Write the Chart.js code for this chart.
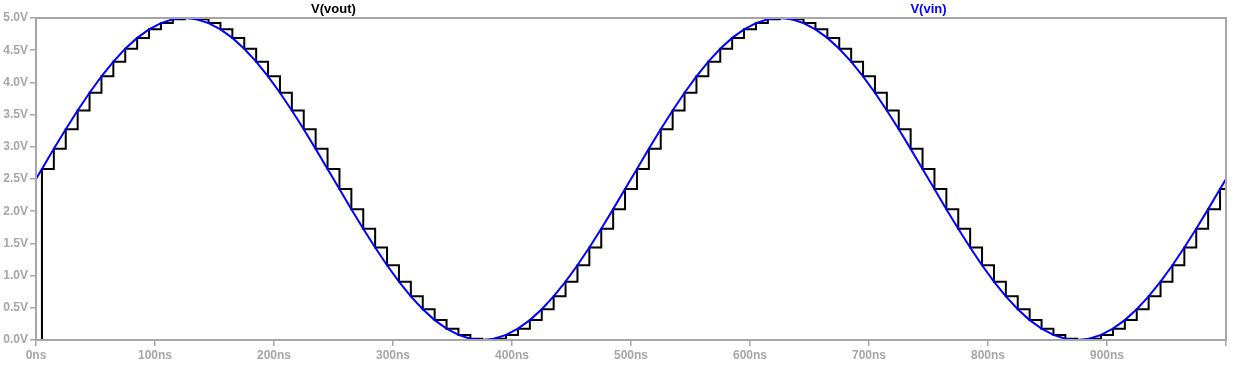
<!DOCTYPE html>
<html>
<head>
<meta charset="utf-8">
<script src="https://cdn.jsdelivr.net/npm/chart.js@4"></script>
<style>
  html, body { margin: 0; padding: 0; background: #fff; }
  #wrap { width: 1245px; height: 366px; }
</style>
</head>
<body>
<div id="wrap"><canvas id="c"></canvas></div>
<script>
// sample times (ns): start, sample instants every 10ns, end
const times = [0,
  5, 15, 25, 35, 45, 55, 65, 75, 85, 95,
  105, 115, 125, 135, 145, 155, 165, 175, 185, 195,
  205, 215, 225, 235, 245, 255, 265, 275, 285, 295,
  305, 315, 325, 335, 345, 355, 365, 375, 385, 395,
  405, 415, 425, 435, 445, 455, 465, 475, 485, 495,
  505, 515, 525, 535, 545, 555, 565, 575, 585, 595,
  605, 615, 625, 635, 645, 655, 665, 675, 685, 695,
  705, 715, 725, 735, 745, 755, 765, 775, 785, 795,
  805, 815, 825, 835, 845, 855, 865, 875, 885, 895,
  905, 915, 925, 935, 945, 955, 965, 975, 985, 995,
  1000];

// V(vin) read at those times (V)
const vin = [2.5,
  2.657, 2.968, 3.273, 3.564, 3.840, 4.094, 4.322, 4.523, 4.691, 4.824,
  4.921, 4.980, 5.000, 4.980, 4.921, 4.824, 4.691, 4.523, 4.322, 4.094,
  3.840, 3.564, 3.273, 2.968, 2.657, 2.343, 2.032, 1.727, 1.436, 1.160,
  0.906, 0.678, 0.477, 0.309, 0.176, 0.079, 0.020, 0.000, 0.020, 0.079,
  0.176, 0.309, 0.477, 0.678, 0.906, 1.160, 1.436, 1.727, 2.032, 2.343,
  2.657, 2.968, 3.273, 3.564, 3.840, 4.094, 4.322, 4.523, 4.691, 4.824,
  4.921, 4.980, 5.000, 4.980, 4.921, 4.824, 4.691, 4.523, 4.322, 4.094,
  3.840, 3.564, 3.273, 2.968, 2.657, 2.343, 2.032, 1.727, 1.436, 1.160,
  0.906, 0.678, 0.477, 0.309, 0.176, 0.079, 0.020, 0.000, 0.020, 0.079,
  0.176, 0.309, 0.477, 0.678, 0.906, 1.160, 1.436, 1.727, 2.032, 2.343,
  2.5];

// V(vout) held value starting at each time (V)
const vout = [0,
  2.657, 2.968, 3.273, 3.564, 3.840, 4.094, 4.322, 4.523, 4.691, 4.824,
  4.921, 4.980, 5.000, 4.980, 4.921, 4.824, 4.691, 4.523, 4.322, 4.094,
  3.840, 3.564, 3.273, 2.968, 2.657, 2.343, 2.032, 1.727, 1.436, 1.160,
  0.906, 0.678, 0.477, 0.309, 0.176, 0.079, 0.020, 0.000, 0.020, 0.079,
  0.176, 0.309, 0.477, 0.678, 0.906, 1.160, 1.436, 1.727, 2.032, 2.343,
  2.657, 2.968, 3.273, 3.564, 3.840, 4.094, 4.322, 4.523, 4.691, 4.824,
  4.921, 4.980, 5.000, 4.980, 4.921, 4.824, 4.691, 4.523, 4.322, 4.094,
  3.840, 3.564, 3.273, 2.968, 2.657, 2.343, 2.032, 1.727, 1.436, 1.160,
  0.906, 0.678, 0.477, 0.309, 0.176, 0.079, 0.020, 0.000, 0.020, 0.079,
  0.176, 0.309, 0.477, 0.678, 0.906, 1.160, 1.436, 1.727, 2.032, 2.343,
  2.343];

const traceNames = ['V(vout)', 'V(vin)'];
const traceColors = ['#000000', '#0000ff'];

const gray = '#a6a6a6';
const font = { family: '"Liberation Sans", Arial, sans-serif', size: 12, weight: 'bold' };

const toPoints = (ys) => times.map((t, i) => ({ x: t, y: ys[i] }));

// frame around the plot plus the trace names above it
const framePlugin = {
  id: 'frame',
  afterDraw(chart) {
    const { ctx, chartArea: a } = chart;
    ctx.save();
    ctx.strokeStyle = gray;
    ctx.lineWidth = 2;
    ctx.strokeRect(a.left, a.top, a.right - a.left, a.bottom - a.top);
    ctx.font = `bold 13px ${font.family}`;
    ctx.textAlign = 'center';
    ctx.textBaseline = 'middle';
    traceNames.forEach((name, i) => {
      ctx.fillStyle = traceColors[i];
      ctx.fillText(name, a.left + (a.right - a.left) * (0.25 + 0.5 * i), a.top - 9);
    });
    ctx.restore();
  },
};

new Chart(document.getElementById('c'), {
  type: 'line',
  data: {
    datasets: [
      {
        label: traceNames[1],
        data: toPoints(vin),
        borderColor: traceColors[1],
        borderWidth: 2,
        pointRadius: 0,
        order: 0,
      },
      {
        label: traceNames[0],
        data: toPoints(vout),
        borderColor: traceColors[0],
        borderWidth: 2,
        pointRadius: 0,
        stepped: 'before',
        order: 1,
      },
    ],
  },
  options: {
    responsive: true,
    maintainAspectRatio: false,
    animation: false,
    layout: { padding: { left: 0, right: 19, top: 18, bottom: 0 } },
    plugins: { legend: { display: false }, tooltip: { enabled: false } },
    scales: {
      x: {
        type: 'linear',
        min: 0,
        max: 1000,
        afterFit: (s) => { s.height = 26; },
        border: { display: false },
        grid: { drawOnChartArea: false, drawTicks: true, tickLength: 6, color: gray, lineWidth: 1.5 },
        ticks: {
          stepSize: 100,
          color: gray,
          font,
          padding: 2,
          maxRotation: 0,
          callback: (v) => (v < 1000 ? `${v}ns` : ''),
        },
      },
      y: {
        min: 0,
        max: 5,
        afterFit: (s) => { s.width = 36; },
        border: { display: false },
        grid: { drawOnChartArea: false, drawTicks: true, tickLength: 6, color: gray, lineWidth: 1.5 },
        ticks: {
          stepSize: 0.5,
          color: gray,
          font,
          padding: 2,
          callback: (v) => `${v.toFixed(1)}V`,
        },
      },
    },
  },
  plugins: [framePlugin],
});
</script>
</body>
</html>
